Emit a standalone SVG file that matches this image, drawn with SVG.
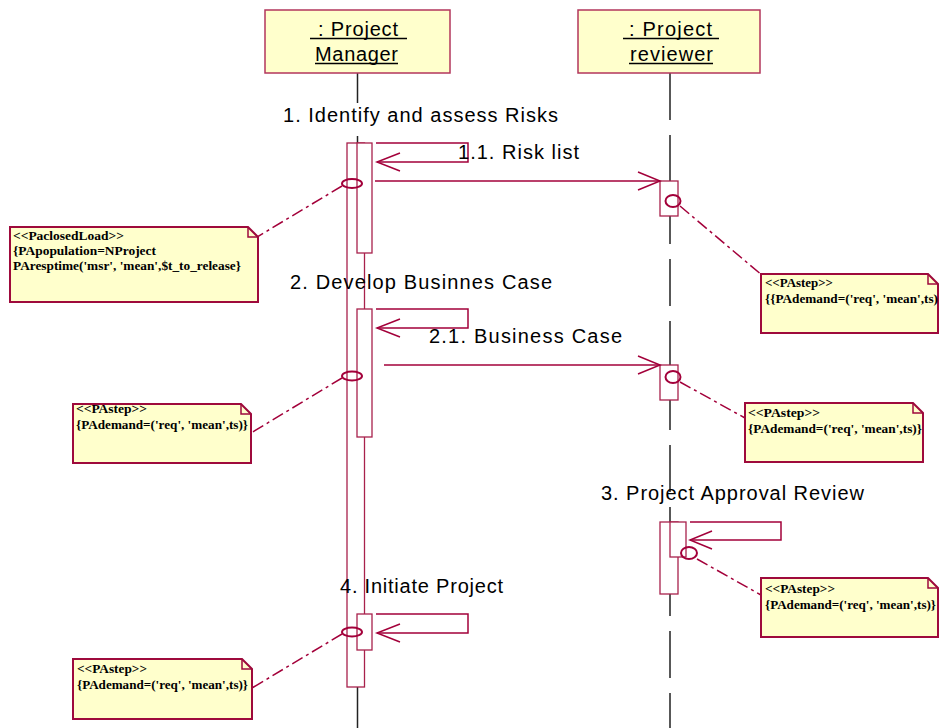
<svg xmlns="http://www.w3.org/2000/svg" width="939" height="728" viewBox="0 0 939 728">
  <style>
    .obj { fill: #ffffcc; stroke: #b3365c; stroke-width: 1.5; }
    .ttl { font-family: "Liberation Sans", Arial, sans-serif; font-size: 20px; fill: #000; }
    .ul { stroke: #000; stroke-width: 1.5; }
    .life { stroke: #222; stroke-width: 1.5; fill: none; }
    .act { fill: #fff; stroke: #a8214c; stroke-width: 1.3; }
    .msg { fill: none; stroke: #a3003a; stroke-width: 1.5; }
    .lbl { font-family: "Liberation Sans", Arial, sans-serif; font-size: 20px; fill: #000; }
    .anchor { fill: none; stroke: #a3003a; stroke-width: 2; }
    .link { fill: none; stroke: #a3003a; stroke-width: 1.5; stroke-dasharray: 12 4 3 4; }
    .note { fill: #ffffcc; stroke: #9e0a3c; stroke-width: 2; }
    .fold { fill: none; stroke: #9e0a3c; stroke-width: 1.5; }
    .nt { font-family: "Liberation Serif", "Times New Roman", serif; font-size: 12.5px; font-weight: bold; fill: #000; }
  </style>

  <!-- lifelines -->
  <g id="lifelines">
    <line class="life" x1="357.5" y1="73" x2="357.5" y2="103"/>
    <line class="life" x1="357.5" y1="136" x2="357.5" y2="143"/>
    <line class="life" x1="357.5" y1="687" x2="357.5" y2="728"/>
    <line class="life" x1="670" y1="73" x2="670" y2="728" stroke-dasharray="47 15"/>
  </g>

  <!-- object: Project Manager -->
  <g id="project-manager">
    <rect class="obj" x="265" y="10" width="185" height="63"/>
    <text class="ttl" x="318" y="36" textLength="80" lengthAdjust="spacing">: Project</text>
    <line class="ul" x1="310" y1="38.5" x2="407" y2="38.5"/>
    <text class="ttl" x="315" y="61" textLength="83" lengthAdjust="spacing">Manager</text>
    <line class="ul" x1="315" y1="63.5" x2="398" y2="63.5"/>
  </g>

  <!-- object: Project reviewer -->
  <g id="project-reviewer">
    <rect class="obj" x="578" y="10" width="182" height="63"/>
    <text class="ttl" x="629" y="36" textLength="83" lengthAdjust="spacing">: Project</text>
    <line class="ul" x1="623" y1="38.5" x2="719" y2="38.5"/>
    <text class="ttl" x="630" y="61" textLength="83" lengthAdjust="spacing">reviewer</text>
    <line class="ul" x1="629" y1="63.5" x2="713" y2="63.5"/>
  </g>

  <!-- activation bars -->
  <g id="activations">
    <rect class="act" x="347" y="143" width="17.5" height="544"/>
    <rect class="act" x="357" y="143" width="15" height="110"/>
    <rect class="act" x="357" y="309" width="15" height="128"/>
    <rect class="act" x="357" y="614" width="15" height="36"/>
    <rect class="act" x="660" y="181" width="18" height="35"/>
    <rect class="act" x="660" y="365" width="18" height="35"/>
    <rect class="act" x="660" y="522" width="18" height="72"/>
    <rect class="act" x="670" y="522" width="16" height="35"/>
  </g>

  <!-- messages -->
  <g id="connectors">
    <path class="msg" d="M376,143 H468 V162 H377"/>
    <path class="msg" d="M400,153 L377,162 L400,171"/>
    <path class="msg" d="M375,181 H660"/>
    <path class="msg" d="M638,172 L660,181 L638,190"/>
    <path class="msg" d="M376,309 H468 V328 H377"/>
    <path class="msg" d="M400,319 L377,328 L400,337"/>
    <path class="msg" d="M384,365 H660"/>
    <path class="msg" d="M638,356 L660,365 L638,374"/>
    <path class="msg" d="M690,522 H781 V540 H690"/>
    <path class="msg" d="M712,531 L690,540 L712,549"/>
    <path class="msg" d="M376,614 H468 V633 H377"/>
    <path class="msg" d="M400,624 L377,633 L400,642"/>

    <!-- annotation links -->
    <line class="link" x1="342" y1="186" x2="252" y2="240"/>
    <line class="link" x1="680" y1="206" x2="763" y2="276"/>
    <line class="link" x1="342" y1="378" x2="251" y2="433"/>
    <line class="link" x1="680" y1="382" x2="745" y2="418"/>
    <line class="link" x1="697" y1="559" x2="761" y2="595"/>
    <line class="link" x1="342" y1="634" x2="252" y2="688"/>

    <!-- anchor marks -->
    <ellipse class="anchor" cx="352" cy="183.5" rx="10" ry="4.5"/>
    <ellipse class="anchor" cx="352" cy="376" rx="10" ry="4.5"/>
    <ellipse class="anchor" cx="352" cy="632" rx="10" ry="4.5"/>
    <ellipse class="anchor" cx="673" cy="201" rx="7.5" ry="6"/>
    <ellipse class="anchor" cx="673" cy="377" rx="7.5" ry="6"/>
    <ellipse class="anchor" cx="689" cy="553" rx="8" ry="6"/>
  </g>

  <!-- message labels -->
  <g id="labels">
    <text class="lbl" x="283" y="122" textLength="275" lengthAdjust="spacing">1. Identify and assess Risks</text>
    <text class="lbl" x="458" y="159" textLength="121" lengthAdjust="spacing">1.1. Risk list</text>
    <text class="lbl" x="290" y="289" textLength="262" lengthAdjust="spacing">2. Develop Businnes Case</text>
    <text class="lbl" x="429" y="343" textLength="193" lengthAdjust="spacing">2.1. Business Case</text>
    <text class="lbl" x="601" y="500" textLength="263" lengthAdjust="spacing">3. Project Approval Review</text>
    <text class="lbl" x="340" y="593" textLength="163" lengthAdjust="spacing">4. Initiate Project</text>
  </g>

  <!-- notes -->
  <g id="note-closed-load">
    <path class="note" d="M10,227 H248 L258,237 V302 H10 Z"/>
    <path class="fold" d="M248,227 V237 H258"/>
    <text class="nt" x="13" y="240" textLength="111" lengthAdjust="spacingAndGlyphs">&lt;&lt;PaclosedLoad&gt;&gt;</text>
    <text class="nt" x="13" y="255" textLength="143" lengthAdjust="spacingAndGlyphs">{PApopulation=NProject</text>
    <text class="nt" x="13" y="270" textLength="228" lengthAdjust="spacingAndGlyphs">PAresptime('msr', 'mean',$t_to_release}</text>
  </g>

  <g id="note-step-review">
    <path class="note" d="M761,274 H928 L938,284 V333 H761 Z"/>
    <path class="fold" d="M928,274 V284 H938"/>
    <text class="nt" x="765" y="287" textLength="68" lengthAdjust="spacingAndGlyphs">&lt;&lt;PAstep&gt;&gt;</text>
    <text class="nt" x="765" y="303" textLength="173" lengthAdjust="spacingAndGlyphs">{{PAdemand=('req', 'mean',ts)</text>
  </g>

  <g id="note-step-develop">
    <path class="note" d="M73,404 H241 L251,414 V463 H73 Z"/>
    <path class="fold" d="M241,404 V414 H251"/>
    <text class="nt" x="76" y="413" textLength="71" lengthAdjust="spacingAndGlyphs">&lt;&lt;PAstep&gt;&gt;</text>
    <text class="nt" x="76" y="429" textLength="172" lengthAdjust="spacingAndGlyphs">{PAdemand=('req', 'mean',ts)}</text>
  </g>

  <g id="note-step-business">
    <path class="note" d="M745,403 H913 L923,413 V462 H745 Z"/>
    <path class="fold" d="M913,403 V413 H923"/>
    <text class="nt" x="748" y="417" textLength="72" lengthAdjust="spacingAndGlyphs">&lt;&lt;PAstep&gt;&gt;</text>
    <text class="nt" x="748" y="433" textLength="174" lengthAdjust="spacingAndGlyphs">{PAdemand=('req', 'mean',ts)}</text>
  </g>

  <g id="note-step-approval">
    <path class="note" d="M761,578 H928 L938,588 V637 H761 Z"/>
    <path class="fold" d="M928,578 V588 H938"/>
    <text class="nt" x="765" y="593" textLength="70" lengthAdjust="spacingAndGlyphs">&lt;&lt;PAstep&gt;&gt;</text>
    <text class="nt" x="765" y="609" textLength="171" lengthAdjust="spacingAndGlyphs">{PAdemand=('req', 'mean',ts)}</text>
  </g>

  <g id="note-step-initiate">
    <path class="note" d="M73,659 H242 L252,669 V719 H73 Z"/>
    <path class="fold" d="M242,659 V669 H252"/>
    <text class="nt" x="77" y="673" textLength="70" lengthAdjust="spacingAndGlyphs">&lt;&lt;PAstep&gt;&gt;</text>
    <text class="nt" x="77" y="689" textLength="171" lengthAdjust="spacingAndGlyphs">{PAdemand=('req', 'mean',ts)}</text>
  </g>
</svg>
